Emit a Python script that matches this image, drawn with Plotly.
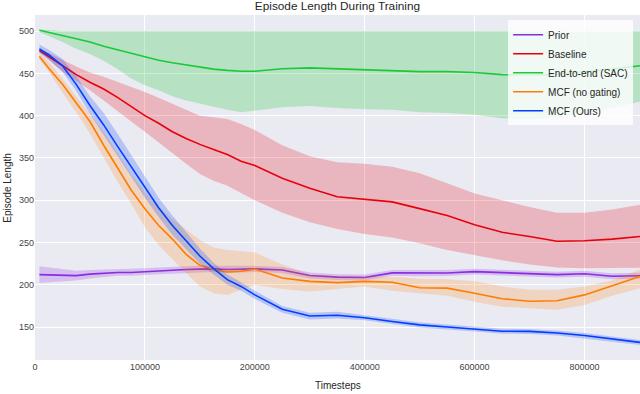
import plotly.graph_objects as go

# x positions (timesteps as plotted; axis ticks labelled as in the original)
steps = [8000, 25000, 50000, 75000, 100000, 125000, 150000, 175000, 200000, 225000,
         250000, 275000, 300000, 325000, 350000, 375000, 400000, 450000, 500000, 550000,
         600000, 650000, 700000, 750000, 800000, 850000, 900000, 950000, 1000000, 1050000, 1101000]

tick_vals = [0, 200000, 400000, 600000, 800000, 1000000]
tick_text = ["0", "100000", "200000", "400000", "600000", "800000"]
y_ticks = [150, 200, 250, 300, 350, 400, 450, 500]

prior_mean = [212, 211.5, 211, 210.8, 212.5, 213.5, 214.5, 214.5, 215.5, 216.5,
              217.5, 218, 218.5, 218.8, 218, 218.5, 218.8, 217.5, 211, 209,
              208.5, 214, 213.5, 213.8, 215.5, 214.5, 213.5, 212, 213, 210, 210.6]
prior_lo = [202, 202.5, 204, 205, 207.5, 209, 210.5, 210.5, 211.5, 212.5,
            213.5, 214, 214.5, 215, 214, 214.5, 215, 214, 207.5, 205.5,
            205, 210.5, 210, 210.3, 212, 211, 210, 208.5, 209.5, 206.5, 207]
prior_hi = [222, 220.5, 218, 216.6, 217.5, 218, 218.5, 218.5, 219.5, 220.5,
            221.5, 222, 222.5, 222.6, 222, 222.5, 222.6, 221, 214.5, 212.5,
            212, 217.5, 217, 217.3, 219, 218, 217, 215.5, 216.5, 213.5, 214.2]

base_mean = [477, 470, 459, 448.5, 439.5, 431.5, 421.5, 411, 400, 391,
             381, 373, 366, 360, 354, 346, 341, 326, 314, 304,
             301, 298, 290, 282, 271, 262, 257, 251.5, 252, 254, 257]
base_lo = [475, 466, 452, 441, 430, 418, 406, 393, 381, 368,
           356, 343, 331, 323, 317, 309, 300, 285, 274, 266,
           260, 256, 249, 241, 235, 229, 224, 220.5, 219.5, 219.5, 220]
base_hi = [479, 474, 466, 458, 451, 446, 440, 434, 428, 421,
           414, 407, 400, 398, 396, 390, 383, 365, 352, 345,
           343, 339.5, 332, 320, 308, 300, 292, 285, 285, 289, 294.5]

sac_mean = [501, 498.5, 495.5, 491, 487, 482, 478, 473.6, 469.6, 465.5,
            462.5, 460, 457, 455, 453.5, 452.5, 452.5, 455.5, 456.5, 455.5,
            454, 453.5, 452, 452, 451, 448.5, 448, 449, 452, 455, 459]
sac_lo = [499, 494, 487, 479, 473, 465, 455, 444, 436, 430,
          423, 418, 414.5, 410.5, 407, 404, 405.5, 410, 411.5, 409,
          407.5, 407, 404, 403, 401, 397, 395.7, 398, 402, 409, 416.5]
sac_hi = [502, 501, 500, 500, 500, 500, 500, 500, 500, 500,
          500, 500, 500, 500, 500, 500, 500, 500, 500, 500,
          500, 500, 500, 500, 500, 500, 500, 500, 500, 500, 500]

nog_mean = [470, 456, 437, 415, 393, 365, 338, 312, 290, 270,
            254, 236, 223, 218, 215, 216, 218.5, 208, 204, 202.5,
            204, 203, 196.5, 196, 190, 183.5, 180.5, 181, 188, 198.5, 209.8]
nog_lo = [466, 452, 427, 404, 379, 351, 322, 296, 268, 247,
          230, 214, 198, 190, 188, 194, 200, 195, 192, 195,
          198, 193, 190, 187, 180, 174, 172, 170.5, 176, 187, 196]
nog_hi = [474, 464, 444, 423, 402, 381, 356, 331, 310, 292,
          278, 265, 253, 244, 241, 239.5, 238, 224, 212, 210,
          210, 209.5, 207, 206.5, 204, 198, 194, 194, 198, 205, 218]

ours_mean = [479, 472, 459, 437, 412, 389, 364, 340, 315, 291,
             270, 252, 234, 219, 206, 198, 188, 171, 163, 164,
             161, 156.5, 152.5, 150, 147.7, 145, 144.8, 143, 140, 135.5, 131.8]
ours_lo = [474, 466, 452, 429, 402, 377, 352, 328, 303, 280,
           259, 242, 225, 212, 200, 193, 183, 167, 159, 160,
           158, 153.5, 149.5, 147, 144.7, 142, 141.8, 140, 137, 132.5, 128.8]
ours_hi = [484, 478, 467, 447, 423, 403, 379, 354, 329, 303,
           282, 262, 243, 226, 212, 203, 193, 175, 167, 168,
           164, 159.5, 155.5, 153, 150.7, 148, 147.8, 146, 143, 138.5, 134.8]

series = [
    ("Prior", prior_mean, prior_lo, prior_hi, "#8B2BE2", "rgba(139,43,226,0.22)"),
    ("Baseline", base_mean, base_lo, base_hi, "#E8000B", "rgba(232,0,11,0.22)"),
    ("End-to-end (SAC)", sac_mean, sac_lo, sac_hi, "#1AC938", "rgba(26,201,56,0.25)"),
    ("MCF (no gating)", nog_mean, nog_lo, nog_hi, "#FF7C00", "rgba(255,124,0,0.2)"),
    ("MCF (Ours)", ours_mean, ours_lo, ours_hi, "#023EFF", "rgba(2,62,255,0.22)"),
]

fig = go.Figure()
for name, m, lo, hi, col, fcol in series:
    fig.add_trace(go.Scatter(
        x=steps + steps[::-1], y=hi + lo[::-1], fill="toself", fillcolor=fcol,
        line=dict(width=0), mode="lines", hoverinfo="skip", showlegend=False))
    fig.add_trace(go.Scatter(
        x=steps, y=m, mode="lines", name=name, line=dict(color=col, width=1.6)))

font = "Liberation Sans, Arial, sans-serif"
fig.update_layout(
    width=640, height=394,
    margin=dict(l=35, r=0, t=15, b=34, autoexpand=False),
    paper_bgcolor="white", plot_bgcolor="#EAEAF2",
    font=dict(family=font, size=9, color="#333333"),
    title=dict(text="Episode Length During Training", x=0.5273, xanchor="center",
               y=0.984, yanchor="middle", automargin=False,
               font=dict(size=11.8, color="#262626")),
    showlegend=True,
    legend=dict(x=0.782, y=0.985, xanchor="left", yanchor="top",
                bgcolor="rgba(255,255,255,0.8)", borderwidth=0,
                font=dict(size=10, color="#262626"), itemwidth=30, tracegroupgap=0),
    xaxis=dict(range=[0, 1101000], tickvals=tick_vals, ticktext=tick_text,
               automargin=False,
               showgrid=True, gridcolor="white", gridwidth=1.2, zeroline=False,
               showline=False, ticks="", tickfont=dict(size=9, color="#444444")),
    yaxis=dict(range=[111, 519], tickvals=y_ticks, automargin=False,
               showgrid=True, gridcolor="white", gridwidth=1.2, zeroline=False,
               showline=False, ticks="", tickfont=dict(size=9, color="#444444")),
    annotations=[
        dict(text="Timesteps", x=0.5, y=-0.075, xref="paper", yref="paper",
             showarrow=False, xanchor="center", yanchor="middle",
             font=dict(size=10, color="#262626")),
        dict(text="Episode Length", x=-0.046, y=0.5, xref="paper", yref="paper",
             showarrow=False, textangle=-90, xanchor="center", yanchor="middle",
             font=dict(size=10, color="#262626")),
    ],
)

fig.write_html("out.html", config={"displayModeBar": False},
               post_script="document.body.style.margin='0';document.body.style.padding='0';")
